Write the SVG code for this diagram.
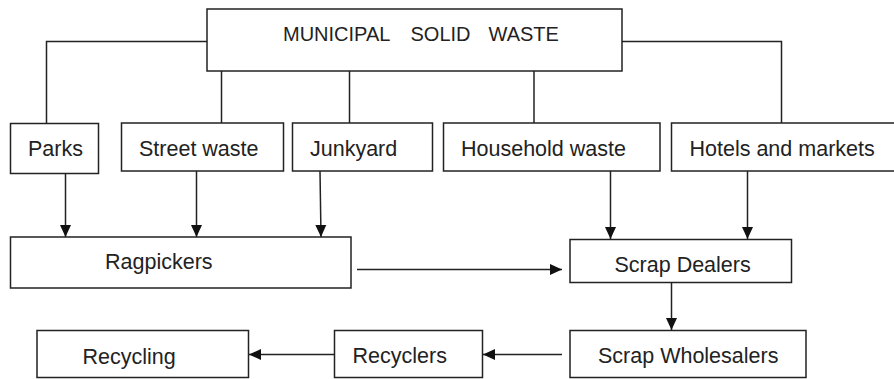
<svg xmlns="http://www.w3.org/2000/svg" width="894" height="379" viewBox="0 0 894 379">
<defs>
<style>
.box{fill:#fff;stroke:#222;stroke-width:1.5}
.ln{fill:none;stroke:#222;stroke-width:1.5}
.t{font-family:"Liberation Sans",Arial,sans-serif;font-size:21.5px;fill:#222}
.title{font-size:20px}
</style>
<marker id="ah" markerUnits="userSpaceOnUse" markerWidth="12" markerHeight="12" viewBox="0 0 12 12" refX="12" refY="6" orient="auto">
<path d="M0,0.5 L12,6 L0,11.5 Z" fill="#111"/>
</marker>
</defs>
<rect width="894" height="379" fill="#fff"/>
<g id="connectors">
<path class="ln" d="M207,41.5 H46.5 V123"/>
<path class="ln" d="M622,41.5 H781.5 V123"/>
<path class="ln" d="M221.5,71 V123"/>
<path class="ln" d="M349.5,71 V123"/>
<path class="ln" d="M534,71 V123"/>
<path class="ln" d="M65.5,173 V237" marker-end="url(#ah)"/>
<path class="ln" d="M196.5,171 V237" marker-end="url(#ah)"/>
<path class="ln" d="M320,171 L321,237" marker-end="url(#ah)"/>
<path class="ln" d="M610.5,171 V239" marker-end="url(#ah)"/>
<path class="ln" d="M747.5,171 V239" marker-end="url(#ah)"/>
<path class="ln" d="M357,269.5 H562" marker-end="url(#ah)"/>
<path class="ln" d="M671.5,282 V330" marker-end="url(#ah)"/>
<path class="ln" d="M562,354.5 H483" marker-end="url(#ah)"/>
<path class="ln" d="M334,354.5 H249" marker-end="url(#ah)"/>
</g>
<g id="msw">
<rect class="box" x="207" y="9" width="415" height="62"/>
<text class="t title" y="41"><tspan x="283">MUNICIPAL</tspan><tspan x="410.5">SOLID</tspan><tspan x="488.5">WASTE</tspan></text>
</g>
<g id="parks">
<rect class="box" x="10.5" y="123.5" width="88" height="50"/>
<text class="t" x="28" y="156">Parks</text>
</g>
<g id="street">
<rect class="box" x="121.5" y="123" width="162" height="48"/>
<text class="t" x="139" y="156">Street waste</text>
</g>
<g id="junkyard">
<rect class="box" x="292.5" y="123" width="140" height="48"/>
<text class="t" x="310" y="156">Junkyard</text>
</g>
<g id="household">
<rect class="box" x="443.5" y="123" width="216.5" height="48"/>
<text class="t" x="461" y="156">Household waste</text>
</g>
<g id="hotels">
<rect class="box" x="671.5" y="123" width="240" height="48"/>
<text class="t" x="689.5" y="156">Hotels and markets</text>
</g>
<g id="ragpickers">
<rect class="box" x="10.5" y="237" width="340.5" height="51"/>
<text class="t" x="105" y="269">Ragpickers</text>
</g>
<g id="dealers">
<rect class="box" x="570" y="239.5" width="221.5" height="43"/>
<text class="t" x="614.5" y="272">Scrap Dealers</text>
</g>
<g id="wholesalers">
<rect class="box" x="570" y="330.5" width="236" height="47"/>
<text class="t" x="598" y="362.5">Scrap Wholesalers</text>
</g>
<g id="recyclers">
<rect class="box" x="334.5" y="330.5" width="148" height="47"/>
<text class="t" x="352.5" y="363">Recyclers</text>
</g>
<g id="recycling">
<rect class="box" x="37" y="330.5" width="211.5" height="47"/>
<text class="t" x="82.5" y="363.5">Recycling</text>
</g>
</svg>
